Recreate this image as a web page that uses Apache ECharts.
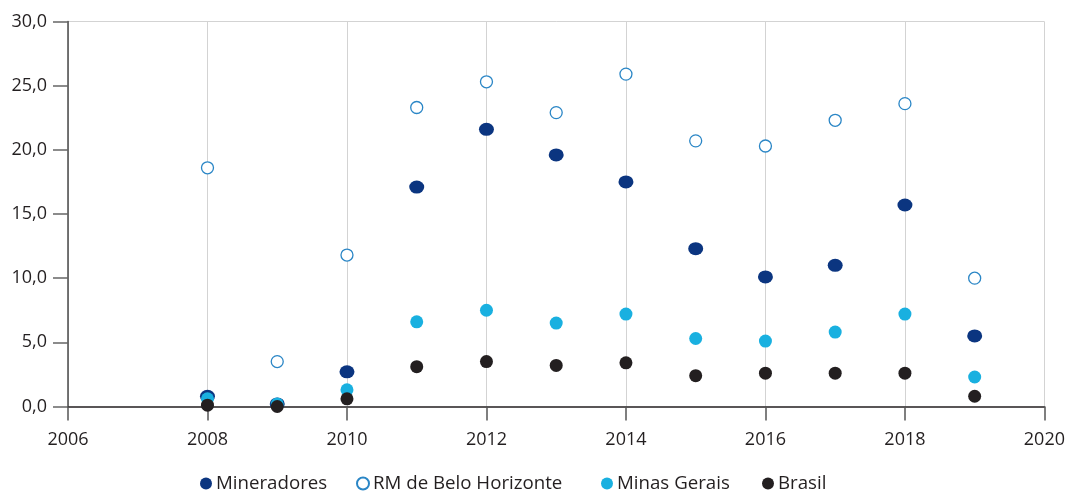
<!DOCTYPE html>
<html>
<head>
<meta charset="utf-8">
<script src="https://cdn.jsdelivr.net/npm/echarts@6/dist/echarts.min.js"></script>
<style>
html,body{margin:0;padding:0;background:#fff;}
#chart{width:1068px;height:491px;}
</style>
</head>
<body>
<div id="chart"></div>
<script>
const years = [2008, 2009, 2010, 2011, 2012, 2013, 2014, 2015, 2016, 2017, 2018, 2019];
const mineradores = [0.8, 0.2, 2.7, 17.1, 21.6, 19.6, 17.5, 12.3, 10.1, 11.0, 15.7, 5.5];
const rmbh = [18.6, 3.5, 11.8, 23.3, 25.3, 22.9, 25.9, 20.7, 20.3, 22.3, 23.6, 10.0];
const minasGerais = [0.6, 0.2, 1.3, 6.6, 7.5, 6.5, 7.2, 5.3, 5.1, 5.8, 7.2, 2.3];
const brasil = [0.1, 0.0, 0.6, 3.1, 3.5, 3.2, 3.4, 2.4, 2.6, 2.6, 2.6, 0.8];
const seriesNames = ['Mineradores', 'RM de Belo Horizonte', 'Minas Gerais', 'Brasil'];

const FONT = 'Open Sans';
const TEXT = '#231f20';
const pairs = arr => years.map((y, i) => [y, arr[i]]);

const chart = echarts.init(document.getElementById('chart'));
const legendBase = {
  top: 474, itemWidth: 12, itemHeight: 12, itemGap: 4,
  textStyle: {fontFamily: FONT, fontSize: 18.7, color: TEXT, padding: [0, 0, 0, -1]},
  selectedMode: false, padding: 0
};
chart.setOption({
  animation: false,
  backgroundColor: '#fff',
  grid: {left: 68, right: 22, top: 21.5, bottom: 84.5},
  legend: [
    Object.assign({}, legendBase, {left: 200, data: [{name: seriesNames[0], icon: 'circle'}]}),
    Object.assign({}, legendBase, {left: 356, data: [{name: seriesNames[1], icon: 'circle'}]}),
    Object.assign({}, legendBase, {left: 601, data: [{name: seriesNames[2], icon: 'circle'}]}),
    Object.assign({}, legendBase, {left: 762, data: [{name: seriesNames[3], icon: 'circle'}]})
  ],
  xAxis: {
    type: 'value', min: 2006, max: 2020, interval: 2,
    axisLine: {show: true, lineStyle: {color: '#231f20', width: 1.5}},
    axisTick: {show: true, length: 14, lineStyle: {color: '#555', width: 1.5}},
    axisLabel: {fontFamily: FONT, fontSize: 18, color: TEXT, margin: 24, formatter: v => String(v)},
    splitLine: {show: true, lineStyle: {color: '#d3d3d3', width: 1}}
  },
  yAxis: {
    type: 'value', min: 0, max: 30, interval: 5,
    axisLine: {show: true, lineStyle: {color: '#4a4a4a', width: 1.5}},
    axisTick: {show: true, length: 15, lineStyle: {color: '#666', width: 1.5}},
    axisLabel: {fontFamily: FONT, fontSize: 18, color: TEXT, margin: 21,
      formatter: v => v.toFixed(1).replace('.', ',')},
    splitLine: {show: true, lineStyle: {color: ['transparent','transparent','transparent','transparent','transparent','transparent','#d3d3d3'], width: 1}}
  },
  series: [
    {name: seriesNames[0], type: 'scatter', data: pairs(mineradores), symbol: 'circle', symbolSize: [15, 13],
      itemStyle: {color: '#0b3580', opacity: 1}},
    {name: seriesNames[1], type: 'scatter', data: pairs(rmbh), symbol: 'circle', symbolSize: 12,
      itemStyle: {color: '#ffffff', borderColor: '#2a86c6', borderWidth: 1.3, opacity: 1}},
    {name: seriesNames[2], type: 'scatter', data: pairs(minasGerais), symbol: 'circle', symbolSize: 13,
      itemStyle: {color: '#19b0e0', opacity: 1}},
    {name: seriesNames[3], type: 'scatter', data: pairs(brasil), symbol: 'circle', symbolSize: 13,
      itemStyle: {color: '#231f20', opacity: 1}}
  ]
});
</script>
</body>
</html>
